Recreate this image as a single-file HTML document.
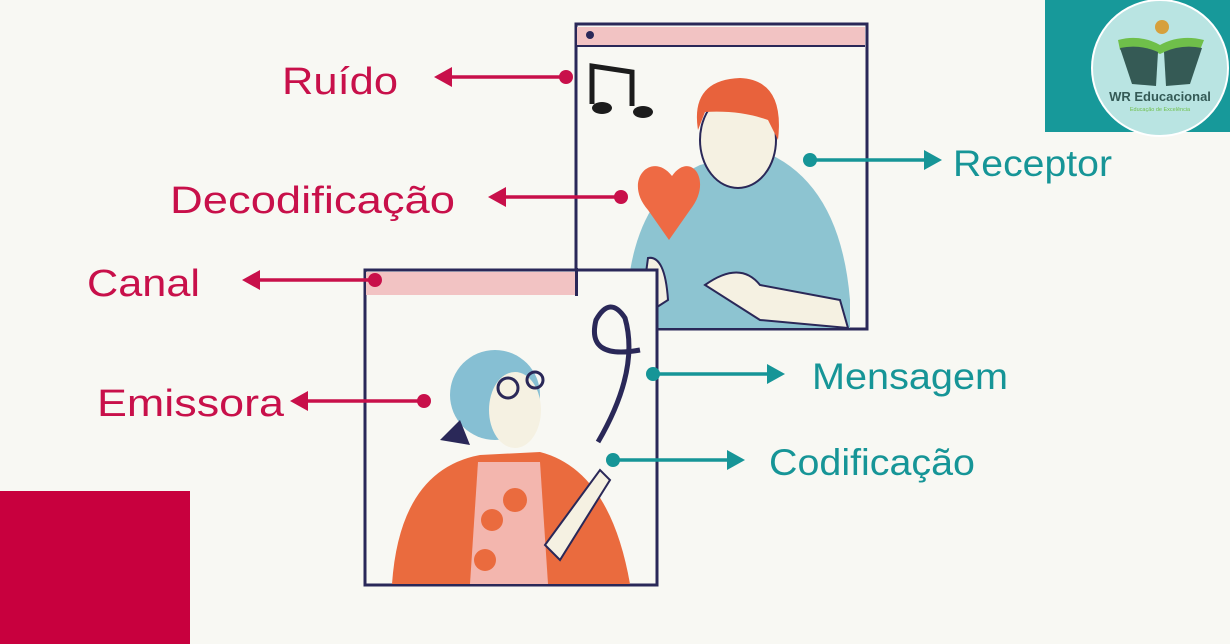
<!DOCTYPE html>
<html><head><meta charset="utf-8"><style>
html,body{margin:0;padding:0;background:#f8f8f3;}
svg{display:block}
text{font-family:"Liberation Sans",sans-serif;}
</style></head><body>
<svg width="1230" height="644" viewBox="0 0 1230 644" xmlns="http://www.w3.org/2000/svg">
<rect width="1230" height="644" fill="#f8f8f3"/>
<rect x="0" y="491" width="190" height="153" fill="#c8003e"/>
<rect x="1045" y="0" width="185" height="132" fill="#17999a"/>
<circle cx="1160" cy="68" r="68" fill="#b9e4e2" stroke="#fff" stroke-width="2"/>
<circle cx="1162" cy="27" r="7" fill="#d6a03c"/>
<path d="M1118 40 Q1140 34 1160 45 Q1180 34 1204 40 L1200 50 Q1180 44 1160 54 Q1140 44 1120 50Z" fill="#6fbf4a"/>
<path d="M1120 48 L1132 84 L1156 86 L1158 52 Q1140 44 1120 48Z" fill="#355a55"/>
<path d="M1202 48 L1190 84 L1166 86 L1164 52 Q1182 44 1202 48Z" fill="#355a55"/>
<text x="1160" y="101" font-size="13" font-weight="bold" fill="#345a56" text-anchor="middle">WR Educacional</text>
<text x="1160" y="111" font-size="5.5" fill="#6fbf4a" text-anchor="middle">Educação de Excelência</text>

<!-- top window -->
<rect x="576" y="24" width="291" height="305" fill="#f8f8f3" stroke="#2a2858" stroke-width="3"/>
<rect x="577" y="27" width="288" height="19" fill="#f2c3c3"/>
<line x1="577" y1="46" x2="865" y2="46" stroke="#2a2858" stroke-width="2"/>
<circle cx="590" cy="35" r="4" fill="#2a2858"/>
<path d="M592 104 L592 66 L632 72 L632 106" stroke="#1c1c1c" stroke-width="5" fill="none"/>
<ellipse cx="602" cy="108" rx="10" ry="6" fill="#1c1c1c"/>
<ellipse cx="643" cy="112" rx="10" ry="6" fill="#1c1c1c"/>
<!-- man -->
<path d="M626 328 Q625 200 700 165 L760 150 Q840 180 850 300 L850 328Z" fill="#8dc4d1"/>
<ellipse cx="738" cy="140" rx="38" ry="48" fill="#f5f1e2" stroke="#2a2858" stroke-width="2"/>
<path d="M698 130 Q690 80 740 78 Q785 80 778 140 L768 120 Q740 110 705 112Z" fill="#e8623c"/>
<path d="M705 285 Q740 260 760 285 L840 300 L848 328 L760 320Z" fill="#f5f1e2" stroke="#2a2858" stroke-width="2"/>
<path d="M640 318 L648 258 Q665 255 668 300Z" fill="#f5f1e2" stroke="#2a2858" stroke-width="2"/>
<path d="M672 176 C652 150 622 180 648 210 L669 240 L690 210 C714 180 690 150 672 176Z" fill="#ee6a44"/>

<!-- bottom window -->
<rect x="365" y="270" width="292" height="315" fill="#f8f8f3" stroke="#2a2858" stroke-width="3"/>
<rect x="366" y="272" width="209" height="23" fill="#f2c3c3"/>
<rect x="575" y="268" width="3" height="28" fill="#2a2858"/>
<!-- woman -->
<path d="M392 584 Q400 470 480 455 L540 452 Q610 470 630 584Z" fill="#ea6b3e"/>
<path d="M478 462 L540 462 L548 584 L470 584Z" fill="#f3b6ae"/>
<circle cx="515" cy="500" r="12" fill="#ea6b3e"/><circle cx="492" cy="520" r="11" fill="#ea6b3e"/><circle cx="485" cy="560" r="11" fill="#ea6b3e"/>
<ellipse cx="495" cy="395" rx="45" ry="45" fill="#86bfd3"/>
<path d="M440 440 L460 420 L470 445Z" fill="#2a2858"/>
<ellipse cx="515" cy="410" rx="26" ry="38" fill="#f5f1e2"/>
<circle cx="508" cy="388" r="10" fill="none" stroke="#2a2858" stroke-width="3"/>
<circle cx="535" cy="380" r="8" fill="none" stroke="#2a2858" stroke-width="3"/>
<path d="M545 545 L600 470 L610 480 L560 560Z" fill="#f5f1e2" stroke="#2a2858" stroke-width="2"/>
<path d="M598 442 Q640 370 625 318 Q610 295 596 320 Q586 360 640 350" fill="none" stroke="#2a2858" stroke-width="5"/>

<g fill="#c8104a" stroke="#c8104a" stroke-width="3.5">
<line x1="565" y1="77" x2="450" y2="77"/><polygon points="434,77 452,67 452,87" stroke="none"/><circle cx="566" cy="77" r="7" stroke="none"/>
<line x1="620" y1="197" x2="504" y2="197"/><polygon points="488,197 506,187 506,207" stroke="none"/><circle cx="621" cy="197" r="7" stroke="none"/>
<line x1="375" y1="280" x2="258" y2="280"/><polygon points="242,280 260,270 260,290" stroke="none"/><circle cx="375" cy="280" r="7" stroke="none"/>
<line x1="424" y1="401" x2="306" y2="401"/><polygon points="290,401 308,391 308,411" stroke="none"/><circle cx="424" cy="401" r="7" stroke="none"/>
</g>
<g fill="#169597" stroke="#169597" stroke-width="3.5">
<line x1="810" y1="160" x2="925" y2="160"/><polygon points="942,160 924,150 924,170" stroke="none"/><circle cx="810" cy="160" r="7" stroke="none"/>
<line x1="652" y1="374" x2="768" y2="374"/><polygon points="785,374 767,364 767,384" stroke="none"/><circle cx="653" cy="374" r="7" stroke="none"/>
<line x1="612" y1="460" x2="728" y2="460"/><polygon points="745,460 727,450 727,470" stroke="none"/><circle cx="613" cy="460" r="7" stroke="none"/>
</g>
<g font-size="38" fill="#c8104a">
<text x="282" y="94" textLength="116" lengthAdjust="spacingAndGlyphs">Ruído</text>
<text x="170" y="213" textLength="285" lengthAdjust="spacingAndGlyphs">Decodificação</text>
<text x="87" y="296" textLength="113" lengthAdjust="spacingAndGlyphs">Canal</text>
<text x="97" y="416" textLength="187" lengthAdjust="spacingAndGlyphs">Emissora</text>
</g>
<g font-size="37" fill="#169597">
<text x="953" y="176" textLength="159" lengthAdjust="spacingAndGlyphs">Receptor</text>
<text x="812" y="389" textLength="196" lengthAdjust="spacingAndGlyphs">Mensagem</text>
<text x="769" y="475" textLength="206" lengthAdjust="spacingAndGlyphs">Codificação</text>
</g>
</svg>
</body></html>
